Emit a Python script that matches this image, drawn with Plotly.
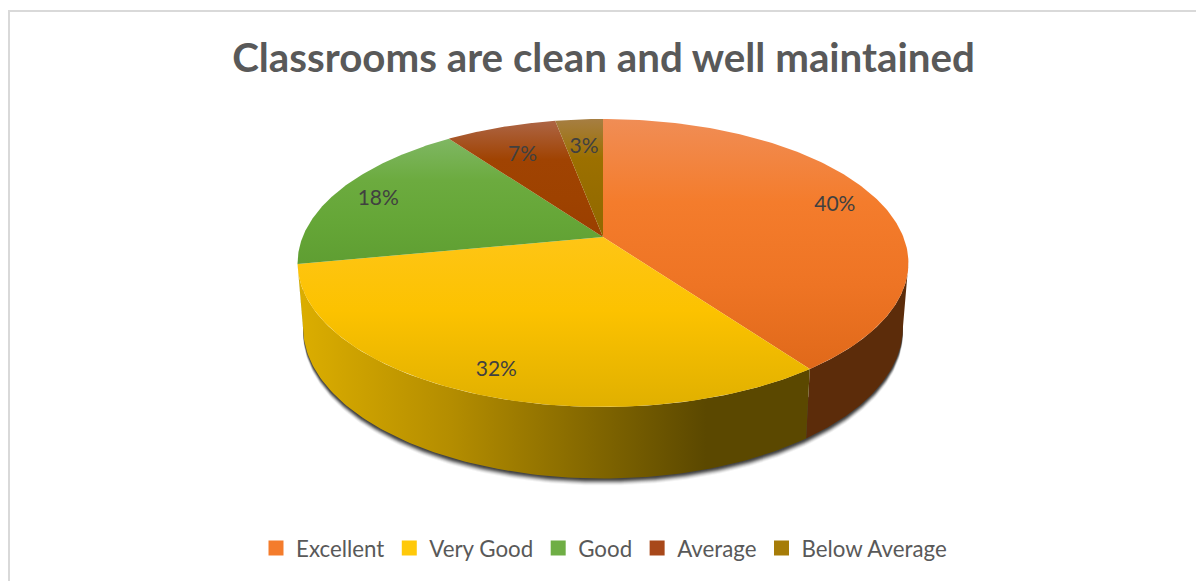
import numpy as np
import plotly.graph_objects as go

TITLE = "Classrooms are clean and well maintained"
CATEGORIES = ["Excellent", "Very Good", "Good", "Average", "Below Average"]
VALUES = [40, 32, 18, 7, 3]

# top face colours, light at the back of the pie, darker at the front
TOP_COLORS = [
    ["#f08d55", "#f47c2c", "#ee7424", "#e0691a"],
    ["#ffc93f", "#ffc61c", "#fcc200", "#e0b000"],
    ["#7fb763", "#6cab3f", "#65a637", "#5f9e32"],
    ["#ad6545", "#a04302", "#9e4200", "#9a3f00"],
    ["#a67e42", "#9c7000", "#966c00", "#916800"],
]
WALL_COLORS = ["#5c2c0a", None, "#4f7a2a", "#6e3000", "#6e5000"]
LEGEND_COLORS = ["#f47c2c", "#ffc90a", "#6fae45", "#a8481a", "#a67c08"]
LABEL_RADIUS = [0.85, 0.83, 0.85, 0.76, 0.76]
LABEL_DY = [4, 9, 4, 5, 3]

# pie geometry in page pixels
APEX_X, APEX_Y = 603, 237
RX, RY, PERSP = 300.4, 139.3, 0.1806
WALL_APEX_Y, WALL_SX, WALL_SY = 300, 0.982, 1.05
WALL_LEFT, WALL_RIGHT = np.degrees(np.arccos(-PERSP)), 360 - np.degrees(np.arccos(-PERSP))


def rim(deg, lower=False, r=1.0):
    t = np.radians(deg)
    u, v = r * np.sin(t), r * np.cos(t)
    w = 1 + PERSP * v
    dx, dy = RX * u / w, -RY * v / w
    if lower:
        return APEX_X + WALL_SX * dx, WALL_APEX_Y + WALL_SY * dy
    return APEX_X + dx, APEX_Y + dy


def scale(colors):
    return [[i / (len(colors) - 1), c] for i, c in enumerate(colors)]


edges = np.cumsum([0] + VALUES) / sum(VALUES) * 360
fig = go.Figure()

# soft shadow under the wall, silhouette drawn several times
arc = np.linspace(WALL_LEFT, WALL_RIGHT, 200)
for off, alpha in [(7, 0.06), (6, 0.1), (5, 0.16), (4, 0.25), (3, 0.35), (2, 0.45), (1, 0.5)]:
    sx, sy = rim(arc, lower=True)
    fig.add_trace(go.Scatter(
        x=np.concatenate([sx, sx[::-1]]), y=np.concatenate([sy + off, sy[::-1] - 40]),
        mode="lines", line=dict(width=0), fill="toself", fillcolor=f"rgba(50,50,50,{alpha})",
        hoverinfo="skip", showlegend=False,
    ))

# side walls
for i, cat in enumerate(CATEGORIES):
    a0, a1 = max(edges[i], WALL_LEFT), min(edges[i + 1], WALL_RIGHT)
    if a1 <= a0:
        continue
    t = np.linspace(a0, a1, 120)
    ux, uy = rim(t)
    lx, ly = rim(t[::-1], lower=True)
    if i == 1:
        grad = dict(type="horizontal", start=298, stop=808,
                    colorscale=[[0, "#dcae00"], [0.3, "#b48d00"], [0.62, "#7b6100"], [0.8, "#5b4800"], [1, "#5b4800"]])
    else:
        grad = dict(type="horizontal", start=ux.min(), stop=ux.max(),
                    colorscale=[[0, WALL_COLORS[i]], [1, WALL_COLORS[i]]])
    fig.add_trace(go.Scatter(
        x=np.concatenate([ux, lx]), y=np.concatenate([uy, ly]),
        mode="lines", line=dict(width=0), fill="toself", fillgradient=grad,
        hoverinfo="skip", showlegend=False,
    ))

# top faces
for i, cat in enumerate(CATEGORIES):
    t = np.linspace(edges[i], edges[i + 1], 160)
    ex, ey = rim(t)
    fig.add_trace(go.Scatter(
        x=np.concatenate([[APEX_X], ex, [APEX_X]]), y=np.concatenate([[APEX_Y], ey, [APEX_Y]]),
        mode="lines", line=dict(width=0), fill="toself",
        fillgradient=dict(type="vertical", start=ey.min() if i > 1 else 119,
                          stop=max(ey.max(), APEX_Y), colorscale=scale(TOP_COLORS[i])),
        name=cat, hoverinfo="name", showlegend=False,
    ))

# percent labels
mids = (edges[:-1] + edges[1:]) / 2
lx, ly = rim(mids, r=np.array(LABEL_RADIUS))
fig.add_trace(go.Scatter(
    x=lx, y=ly + np.array(LABEL_DY), mode="text", text=[f"{v}%" for v in VALUES],
    textposition="middle center", textfont=dict(family="Lato", size=21, color="#404040"),
    hoverinfo="skip", showlegend=False,
))

# legend entries
for cat, col in zip(CATEGORIES, LEGEND_COLORS):
    fig.add_trace(go.Scatter(
        x=[None], y=[None], mode="markers", name=cat,
        marker=dict(symbol="square", size=15, color=col),
    ))

fig.update_layout(
    width=1196, height=581,
    margin=dict(l=0, r=0, t=0, b=0),
    paper_bgcolor="white", plot_bgcolor="white",
    title=dict(text=f"<b>{TITLE}</b>", x=603.5 / 1196, xanchor="center", y=1 - 58 / 581, yanchor="middle",
               font=dict(family="Lato", size=40.3, color="#595959")),
    xaxis=dict(range=[0, 1196], visible=False, fixedrange=True),
    yaxis=dict(range=[581, 0], visible=False, fixedrange=True),
    legend=dict(orientation="h", x=604 / 1196, xanchor="center", y=1 - 548 / 581, yanchor="middle",
                font=dict(family="Lato", size=22.3, color="#595959"), itemwidth=30,
                traceorder="normal", bgcolor="rgba(0,0,0,0)"),
    shapes=[
        dict(type="line", xref="paper", yref="paper", x0=9 / 1196, x1=9 / 1196, y0=0, y1=1 - 11 / 581,
             line=dict(color="#d9d9d9", width=2)),
        dict(type="line", xref="paper", yref="paper", x0=8 / 1196, x1=1, y0=1 - 11 / 581, y1=1 - 11 / 581,
             line=dict(color="#d9d9d9", width=2)),
    ],
)

# the page body has a default margin that would push the chart off by 8 px
fig.write_html("out.html", config={"displayModeBar": False},
               post_script="document.body.style.margin='0';document.body.style.overflow='hidden';")
